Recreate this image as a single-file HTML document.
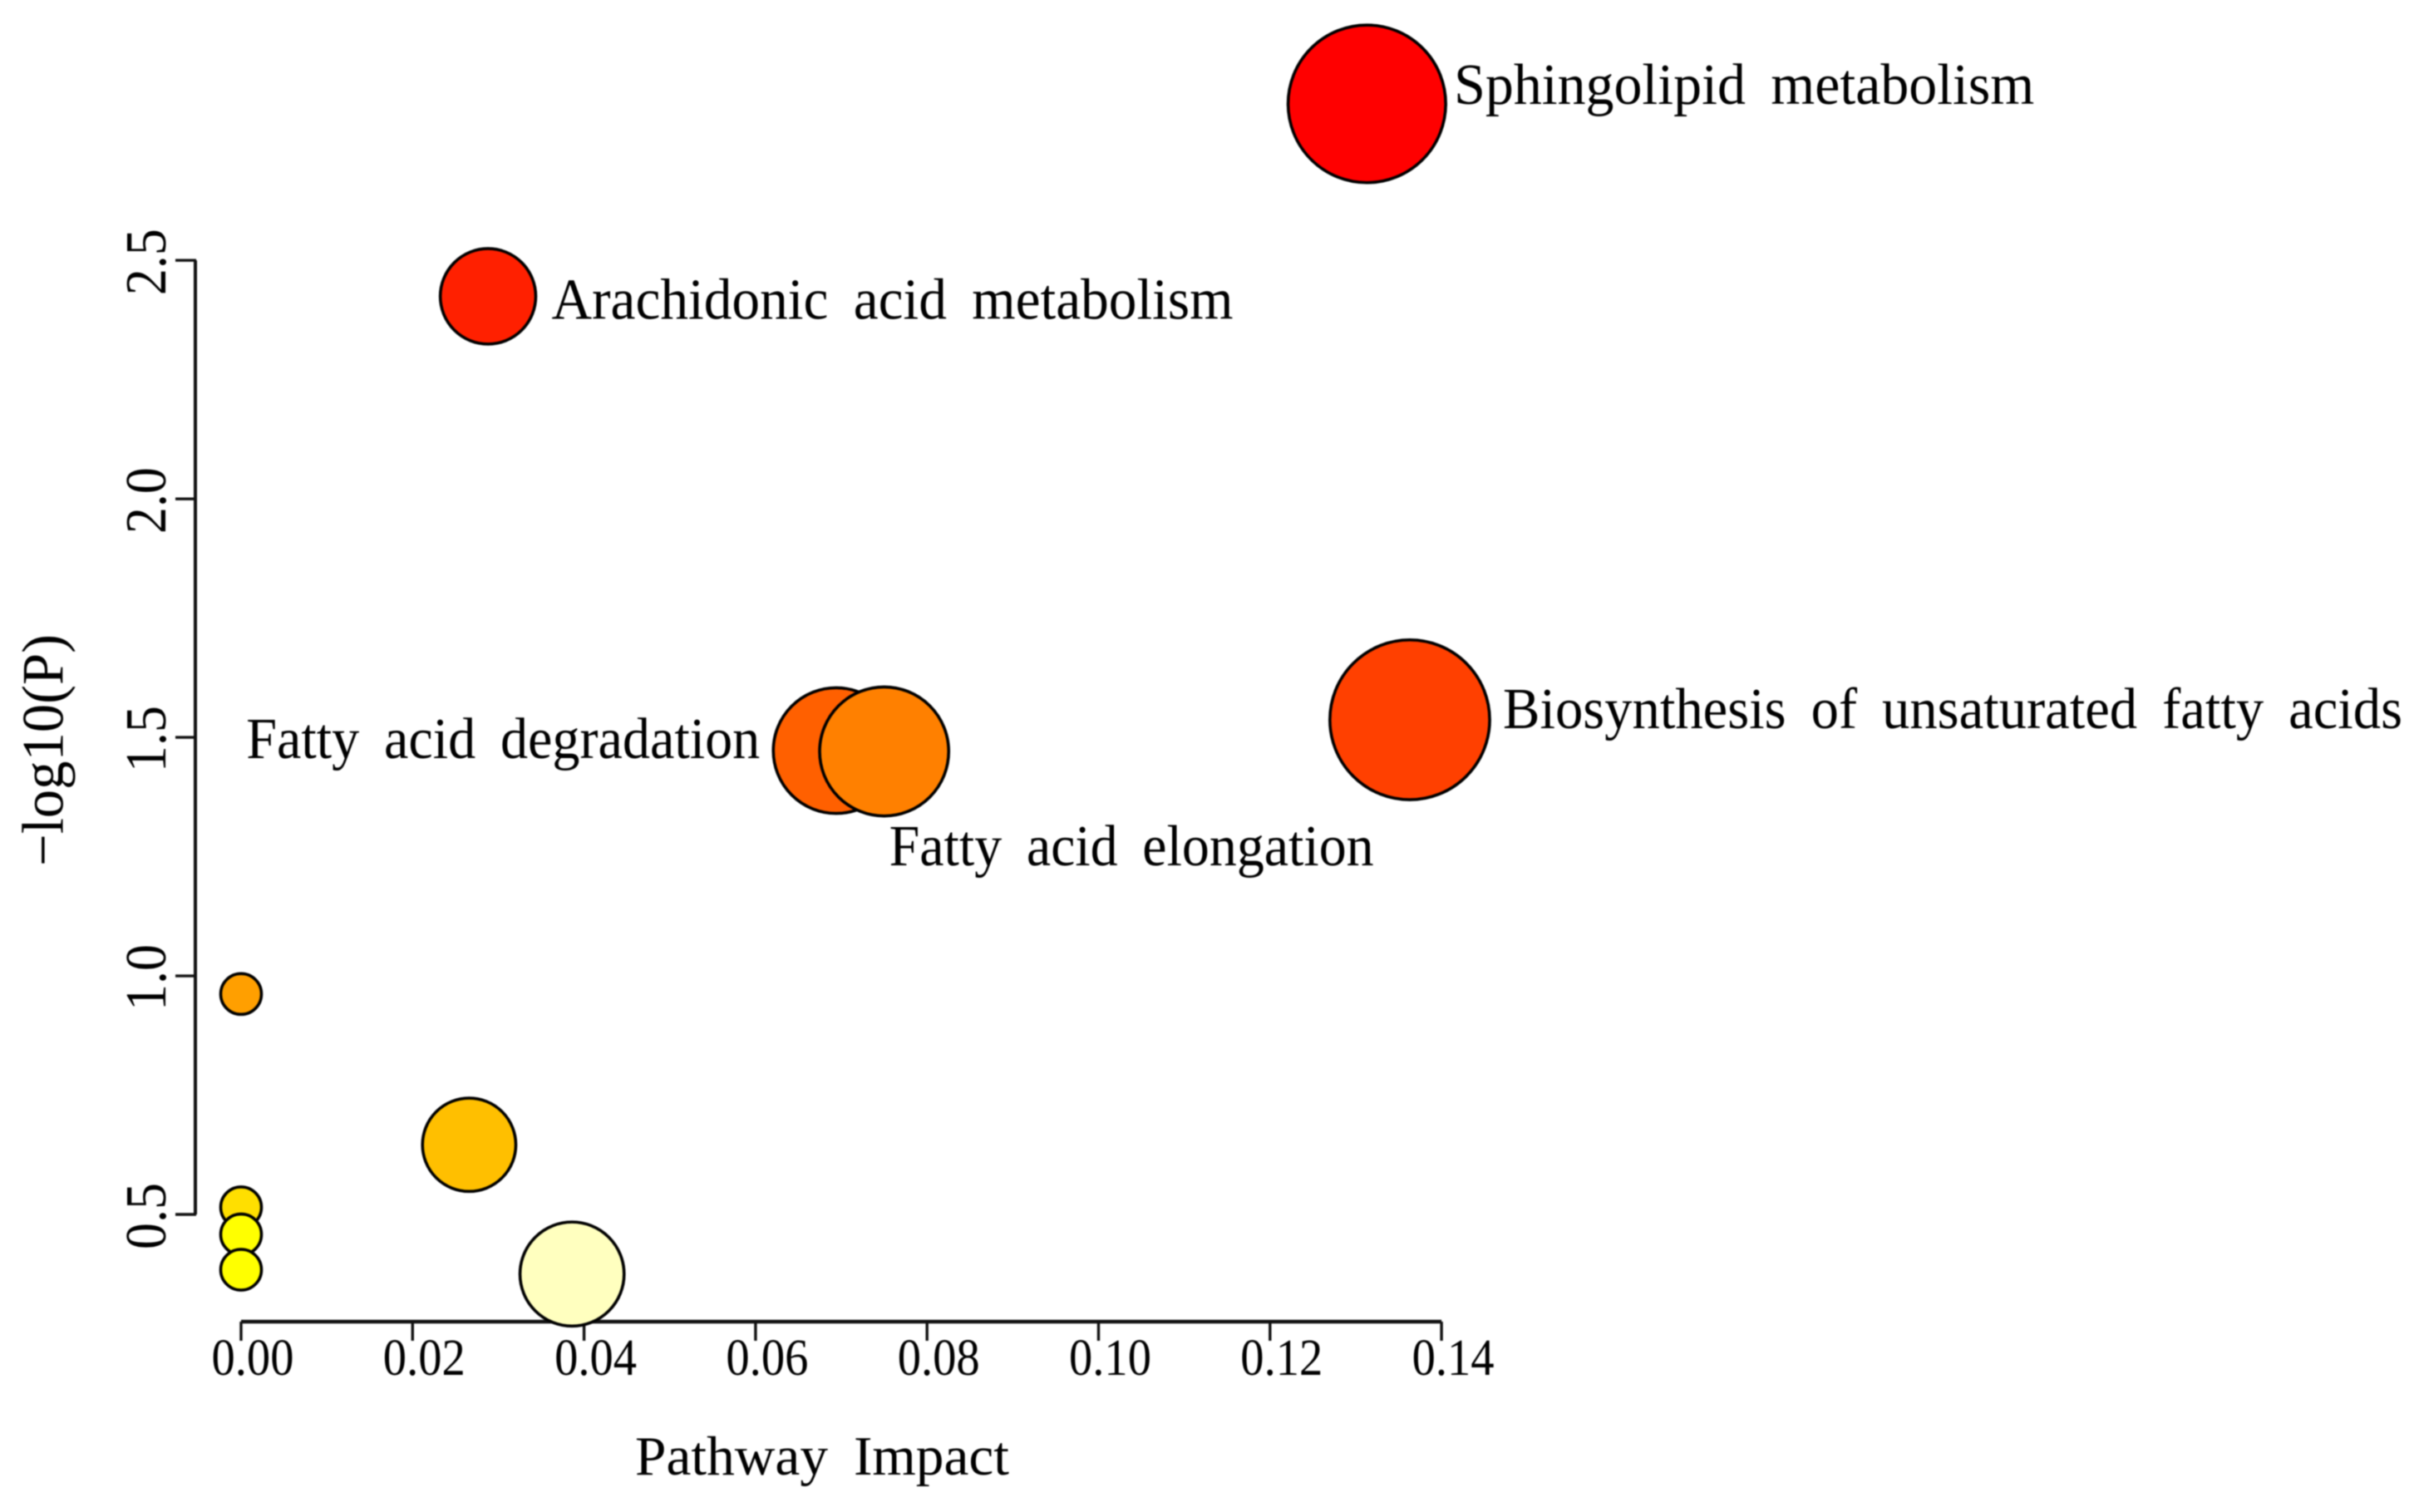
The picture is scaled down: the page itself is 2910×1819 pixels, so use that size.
<!DOCTYPE html>
<html lang="en">
<head>
<meta charset="utf-8">
<title>Pathway impact bubble chart</title>
<style>
  html, body { margin: 0; padding: 0; background: #ffffff; }
  svg { display: block; filter: blur(0.7px); }
  text { font-family: "Liberation Serif", "Times New Roman", serif; fill: #000000; }
</style>
</head>
<body>
<svg id="chart" xmlns="http://www.w3.org/2000/svg" width="2910" height="1819" viewBox="0 0 2910 1819">
  <rect x="0" y="0" width="2910" height="1819" fill="#ffffff"></rect>
</svg>
<script>
const pathwayNames = ["Sphingolipid metabolism", "Arachidonic acid metabolism", "Biosynthesis of unsaturated fatty acids", "Fatty acid degradation", "Fatty acid elongation", "", "", "", "", "", ""];
const impactValues = [0.1313, 0.0288, 0.1363, 0.0694, 0.0750, 0, 0.0266, 0, 0, 0, 0.0386];
const logPValues = [2.828, 2.4245, 1.5368, 1.4723, 1.4705, 0.962, 0.646, 0.515, 0.458, 0.384, 0.375];
const xTickValues = [0, 0.02, 0.04, 0.06, 0.08, 0.10, 0.12, 0.14];
const xTickLabels = ["0.00", "0.02", "0.04", "0.06", "0.08", "0.10", "0.12", "0.14"];
const yTickValues = [0.5, 1.0, 1.5, 2.0, 2.5];
const yTickLabels = ["0.5", "1.0", "1.5", "2.0", "2.5"];

const SVG_NS = "http://www.w3.org/2000/svg";
const chart = document.getElementById("chart");

function xScale(v) { return 290 + v * 10315; }
function yScale(v) { return 1461 - (v - 0.5) * 573.9; }
function rScale(v) { return 24.5 + 194 * Math.sqrt(Math.max(v, 0)); }

function heatColor(rank, count) {
  if (rank >= count - 1) return "#ffffbf";
  const green = Math.min(255, Math.round(255 * rank / 8));
  return "rgb(255," + green + ",0)";
}

function make(tag, parent, attrs) {
  const node = document.createElementNS(SVG_NS, tag);
  Object.keys(attrs).forEach(function (k) { node.setAttribute(k, attrs[k]); });
  parent.appendChild(node);
  return node;
}

function drawAxes() {
  const axisColor = "#111111";
  const xLine = make("line", chart, { x1: xScale(xTickValues[0]), x2: xScale(xTickValues[xTickValues.length - 1]), y1: 1590, y2: 1590, stroke: axisColor, "stroke-width": 4.6 });
  
  

  xTickValues.forEach(function (t, i) {
    const tick = make("line", chart, { x1: xScale(t), x2: xScale(t), y1: 1590, y2: 1613, stroke: axisColor, "stroke-width": 3.4 });
    
    
    const label = make("text", chart, { x: xScale(t) + 14, y: 1654, "font-size": 62, "text-anchor": "middle", textLength: 99, lengthAdjust: "spacingAndGlyphs" });
    
    
    label.textContent = xTickLabels[i];
  });

  const yLine = make("line", chart, { x1: 235, x2: 235, y1: yScale(yTickValues[yTickValues.length - 1]), y2: yScale(yTickValues[0]), stroke: axisColor, "stroke-width": 4 });
  
  

  yTickValues.forEach(function (t, i) {
    const tick = make("line", chart, { x1: 211, x2: 236, y1: yScale(t), y2: yScale(t), stroke: axisColor, "stroke-width": 3.4 });
    
    
    const cy = yScale(t) + 2;
    const label = make("text", chart, { x: 199, y: cy, "font-size": 70, "text-anchor": "middle", textLength: 80, lengthAdjust: "spacingAndGlyphs", transform: "rotate(-90 199 " + cy + ")" });
    
    
    label.textContent = yTickLabels[i];
  });

  const xTitle = make("text", chart, { x: 764, y: 1774, "font-size": 67, textLength: 450, lengthAdjust: "spacingAndGlyphs", "word-spacing": 14 });
  
  
  xTitle.textContent = "Pathway Impact";

  const yTitle = make("text", chart, { x: 75.5, y: 902.5, "font-size": 71, "text-anchor": "middle", textLength: 279, lengthAdjust: "spacingAndGlyphs", transform: "rotate(-90 75.5 902.5)" });
  
  
  yTitle.textContent = "\u2212log10(P)";
}

function drawBubbles() {
  const order = logPValues.map(function (v, i) { return i; }).sort(function (a, b) { return logPValues[b] - logPValues[a]; });
  impactValues.forEach(function (impact, i) {
    const rank = order.indexOf(i);
    const bubble = make("circle", chart, { cx: xScale(impact), cy: yScale(logPValues[i]), r: rScale(impact), fill: heatColor(rank, logPValues.length), stroke: "#000000", "stroke-width": 3.6 });
    
    
  });
}

function drawLabels() {
  /* label layout relative to each bubble: side, gap from bubble edge, baseline shift, printed width */
  const layout = [
    { side: "right", gap: 10, dy: 0, width: 698 },
    { side: "right", gap: 19, dy: 27, width: 820 },
    { side: "right", gap: 16, dy: 10, width: 1082 },
    { side: "left", gap: 16, dy: 9, width: 618 },
    { side: "below", gap: 6, dy: 137, width: 583 }
  ];
  layout.forEach(function (place, i) {
    const cx = xScale(impactValues[i]);
    const cy = yScale(logPValues[i]);
    const r = rScale(impactValues[i]);
    let x = cx + r + place.gap;
    if (place.side === "left") x = cx - r - place.gap - place.width;
    if (place.side === "below") x = cx + place.gap;
    const label = make("text", chart, { x: x, y: cy + place.dy, "font-size": 70, textLength: place.width, lengthAdjust: "spacingAndGlyphs", "word-spacing": 14 });
    
    
    label.textContent = pathwayNames[i];
  });
}

drawAxes();
drawBubbles();
drawLabels();
</script>
</body>
</html>
